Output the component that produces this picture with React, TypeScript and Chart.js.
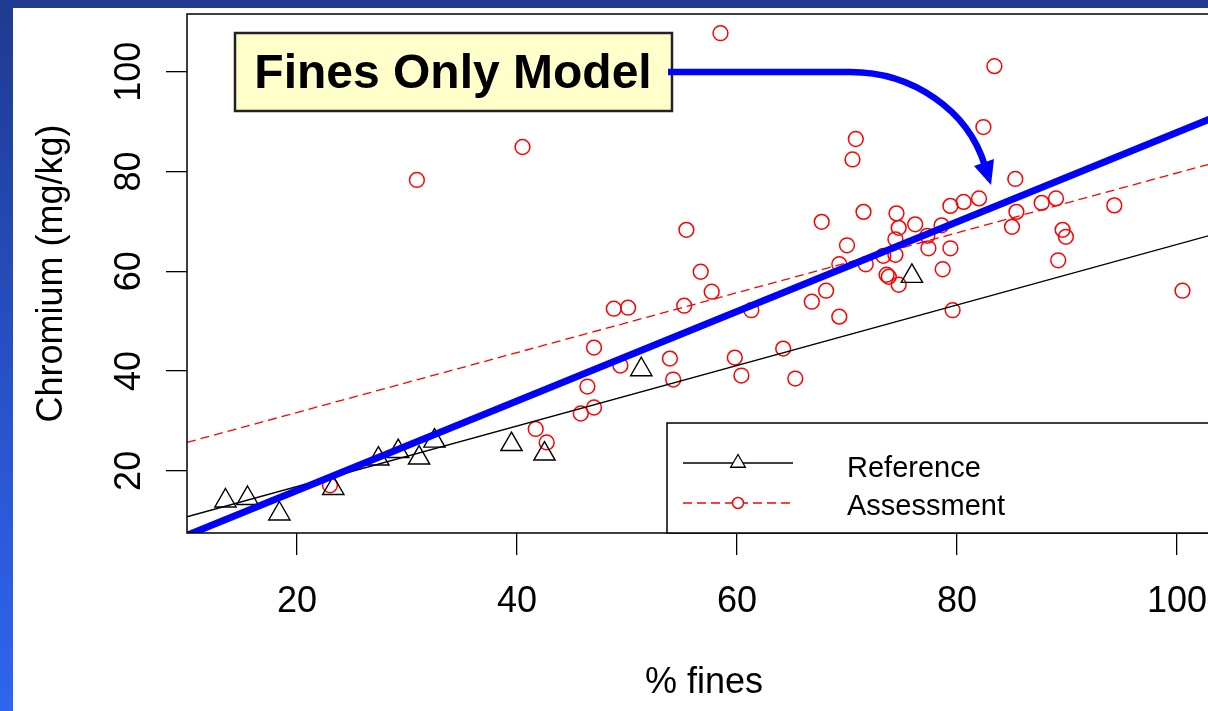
import React, { useEffect, useRef } from "react";
import { Chart, registerables } from "chart.js";

Chart.register(...registerables);

const FONT = "'Liberation Sans', Arial, Helvetica, sans-serif";

// axis settings
const xTicks = [20, 40, 60, 80, 100];
const yTicks = [20, 40, 60, 80, 100];
const xRange = [10, 104];
const yRange = [7.55, 111.55];
const xTitle = "% fines";
const yTitle = "Chromium (mg/kg)";
const annotationText = "Fines Only Model";
const legendLabels = ["Reference", "Assessment"];

// Reference sites (triangles)
const referenceX = [13.5, 15.5, 18.4, 23.3, 27.4, 29.2, 31.1, 32.5, 39.5, 42.5, 51.3, 75.9];
const referenceY = [14.0, 14.5, 11.4, 16.5, 22.4, 23.9, 22.6, 26.0, 25.3, 23.4, 40.3, 59.0];

// Assessment sites (circles)
const assessmentX = [
  30.9, 23.0, 40.5, 55.4, 56.7, 57.7, 55.2, 48.8, 50.1, 47.0,
  49.4, 53.9, 54.2, 59.8, 60.4, 46.4, 47.0, 45.8, 41.7, 42.7,
  70.8, 70.5, 71.5, 67.7, 70.0, 69.3, 71.7, 68.1, 66.8, 69.3,
  64.2, 65.3, 61.3, 74.5, 74.7, 76.2, 74.4, 74.4, 73.3, 73.6,
  73.8, 74.7, 77.3, 77.4, 78.6, 78.7, 83.4, 82.4, 85.3, 79.4,
  80.6, 82.0, 85.4, 85.0, 87.7, 89.0, 94.3, 89.6, 89.9, 79.4,
  89.2, 100.5, 79.6, 58.5,
];
const assessmentY = [
  78.3, 17.1, 84.9, 68.3, 59.9, 55.9, 53.1, 52.5, 52.7, 44.7,
  41.1, 42.5, 38.3, 42.7, 39.1, 36.9, 32.7, 31.5, 28.4, 25.7,
  86.5, 82.4, 71.9, 69.9, 65.2, 61.4, 61.4, 56.1, 53.9, 50.9,
  44.5, 38.5, 52.2, 71.6, 68.7, 69.4, 66.4, 63.3, 63.1, 59.3,
  58.9, 57.3, 67.1, 64.6, 69.2, 60.4, 101.1, 88.9, 78.5, 73.1,
  73.9, 74.6, 71.9, 68.9, 73.7, 74.6, 73.2, 68.3, 66.9, 64.6,
  62.2, 56.1, 52.2, 107.7,
];

// fitted lines (end points across the plot)
const referenceFitX = [10, 104];
const referenceFitY = [10.8, 67.8];
const assessmentFitX = [10, 104];
const assessmentFitY = [25.7, 82.1];
const finesModelX = [10, 104];
const finesModelY = [7.1, 91.4];

const pts = (xs: number[], ys: number[]) => xs.map((x, i) => ({ x, y: ys[i] }));

const decorPlugin = {
  id: "decor",
  afterDraw(chart: any) {
    const { ctx, chartArea: a, scales } = chart;
    const ys = scales.y;
    ctx.save();

    // plot box
    ctx.strokeStyle = "#000";
    ctx.lineWidth = 1.5;
    ctx.strokeRect(a.left, a.top, a.right - a.left, a.bottom - a.top);

    // y tick labels (rotated, R style)
    ctx.font = `36px ${FONT}`;
    ctx.fillStyle = "#000";
    ctx.textAlign = "center";
    ctx.textBaseline = "middle";
    yTicks.forEach((v) => {
      const py = ys.getPixelForValue(v);
      ctx.save();
      ctx.translate(a.left - 57, py);
      ctx.rotate(-Math.PI / 2);
      ctx.fillText(String(v), 0, 0);
      ctx.restore();
    });

    // legend box
    const lx = 654;
    const ly = 415;
    ctx.fillStyle = "#fff";
    ctx.fillRect(lx, ly, 700, a.bottom - ly);
    ctx.strokeStyle = "#000";
    ctx.lineWidth = 1.5;
    ctx.strokeRect(lx, ly, 700, a.bottom - ly);

    // legend row 1: Reference
    ctx.lineWidth = 1.3;
    ctx.setLineDash([]);
    ctx.beginPath();
    ctx.moveTo(670, 455);
    ctx.lineTo(780, 455);
    ctx.stroke();
    const tr = 8.5;
    ctx.beginPath();
    for (let k = 0; k < 3; k++) {
      const ang = (k * 2 * Math.PI) / 3;
      const px = 725 + Math.sin(ang) * tr;
      const py = 455 - Math.cos(ang) * tr;
      if (k === 0) ctx.moveTo(px, py);
      else ctx.lineTo(px, py);
    }
    ctx.closePath();
    ctx.fillStyle = "#fff";
    ctx.fill();
    ctx.stroke();

    // legend row 2: Assessment
    ctx.strokeStyle = "#ff0000";
    ctx.setLineDash([9, 5]);
    ctx.beginPath();
    ctx.moveTo(670, 495);
    ctx.lineTo(780, 495);
    ctx.stroke();
    ctx.setLineDash([]);
    ctx.lineWidth = 1.5;
    ctx.beginPath();
    ctx.arc(725, 495, 5.5, 0, Math.PI * 2);
    ctx.fillStyle = "#fff";
    ctx.fill();
    ctx.stroke();

    ctx.fillStyle = "#000";
    ctx.font = `29px ${FONT}`;
    ctx.textAlign = "left";
    ctx.textBaseline = "alphabetic";
    ctx.fillText(legendLabels[0], 834, 469);
    ctx.fillText(legendLabels[1], 834, 507);

    // annotation box
    ctx.fillStyle = "#ffffcc";
    ctx.fillRect(222, 25, 437, 78);
    ctx.strokeStyle = "#222";
    ctx.lineWidth = 2.5;
    ctx.strokeRect(222, 25, 437, 78);
    ctx.fillStyle = "#000";
    ctx.font = `bold 48px ${FONT}`;
    ctx.textAlign = "center";
    ctx.fillText(annotationText, 440, 80);

    // curved arrow
    ctx.strokeStyle = "#0000ff";
    ctx.lineWidth = 6.5;
    ctx.lineCap = "butt";
    ctx.beginPath();
    ctx.moveTo(655, 64);
    ctx.lineTo(837, 64);
    ctx.ellipse(837, 192, 140, 128, 0, -Math.PI / 2, -0.27);
    ctx.stroke();
    ctx.fillStyle = "#0000ff";
    ctx.beginPath();
    ctx.moveTo(978, 177);
    ctx.lineTo(981, 151);
    ctx.lineTo(961, 158);
    ctx.closePath();
    ctx.fill();

    ctx.restore();
  },
};

export default function App() {
  const canvasRef = useRef<HTMLCanvasElement | null>(null);

  useEffect(() => {
    if (!canvasRef.current) return;
    const chart = new Chart(canvasRef.current, {
      type: "scatter",
      data: {
        datasets: [
          {
            label: "Fines only model",
            data: pts(finesModelX, finesModelY),
            showLine: true,
            borderColor: "#0000ff",
            borderWidth: 7,
            pointRadius: 0,
          },
          {
            label: "Reference fit",
            data: pts(referenceFitX, referenceFitY),
            showLine: true,
            borderColor: "#000",
            borderWidth: 1.3,
            pointRadius: 0,
          },
          {
            label: "Assessment fit",
            data: pts(assessmentFitX, assessmentFitY),
            showLine: true,
            borderColor: "#ff0000",
            borderWidth: 1.3,
            borderDash: [9, 5],
            pointRadius: 0,
          },
          {
            label: legendLabels[0],
            data: pts(referenceX, referenceY),
            pointStyle: "triangle",
            pointRadius: 12.3,
            borderColor: "#000",
            backgroundColor: "rgba(0,0,0,0)",
            pointBorderWidth: 1.4,
          },
          {
            label: legendLabels[1],
            data: pts(assessmentX, assessmentY),
            pointStyle: "circle",
            pointRadius: 7.4,
            borderColor: "#ff0000",
            backgroundColor: "rgba(0,0,0,0)",
            pointBorderWidth: 1.5,
          },
        ],
      },
      options: {
        responsive: false,
        animation: false,
        events: [],
        layout: { autoPadding: false, padding: { top: 6, right: 32, left: 0, bottom: 0 } },
        plugins: { legend: { display: false }, tooltip: { enabled: false } },
        scales: {
          x: {
            type: "linear",
            min: xRange[0],
            max: xRange[1],
            afterBuildTicks: (s: any) => {
              s.ticks = xTicks.map((v) => ({ value: v }));
            },
            afterFit: (s: any) => {
              s.height = 178;
            },
            grid: {
              display: true,
              drawOnChartArea: false,
              drawTicks: true,
              tickLength: 22,
              color: "#000",
              lineWidth: 1.3,
            },
            border: { display: false },
            ticks: {
              color: "#000",
              font: { family: FONT, size: 36 },
              padding: 25,
              maxRotation: 0,
              autoSkip: false,
            },
            title: {
              display: true,
              text: xTitle,
              color: "#000",
              font: { family: FONT, size: 36 },
              padding: { top: 0, bottom: 6 },
            },
          },
          y: {
            type: "linear",
            min: yRange[0],
            max: yRange[1],
            afterBuildTicks: (s: any) => {
              s.ticks = yTicks.map((v) => ({ value: v }));
            },
            afterFit: (s: any) => {
              s.width = 174;
            },
            grid: {
              display: true,
              drawOnChartArea: false,
              drawTicks: true,
              tickLength: 21,
              color: "#000",
              lineWidth: 1.3,
            },
            border: { display: false },
            ticks: { display: false },
            title: {
              display: true,
              text: yTitle,
              color: "#000",
              font: { family: FONT, size: 36 },
              padding: { top: 17, bottom: 0 },
            },
          },
        },
      },
      plugins: [decorPlugin],
    } as any);
    return () => chart.destroy();
  }, []);

  return (
    <div
      style={{
        position: "fixed",
        left: 0,
        top: 0,
        width: 1208,
        height: 711,
        overflow: "hidden",
        background: "linear-gradient(180deg, #1f3a90 0%, #2850c4 50%, #3064f0 100%)",
      }}
    >
      <div
        style={{
          position: "absolute",
          left: 13,
          top: 8,
          width: 1240,
          height: 703,
          background: "#fff",
        }}
      >
        <canvas ref={canvasRef} width={1240} height={703} style={{ display: "block" }} />
      </div>
    </div>
  );
}
